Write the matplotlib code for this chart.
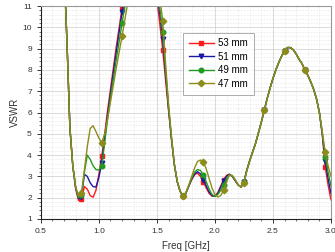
import matplotlib
matplotlib.use("Agg")
import matplotlib.pyplot as plt
from matplotlib.ticker import MultipleLocator

plt.rcParams["font.family"] = ["Liberation Sans", "DejaVu Sans"]

freq = [
    0.5, 0.525, 0.55, 0.575, 0.6, 0.625, 0.65, 0.675, 0.7, 0.725,
    0.75, 0.775, 0.8, 0.825, 0.85, 0.875, 0.9, 0.925, 0.95, 0.975,
    1.0, 1.025, 1.05, 1.075, 1.1, 1.125, 1.15, 1.175, 1.2, 1.225,
    1.25, 1.275, 1.3, 1.325, 1.35, 1.375, 1.4, 1.425, 1.45, 1.475,
    1.5, 1.525, 1.55, 1.575, 1.6, 1.625, 1.65, 1.675, 1.7, 1.725,
    1.75, 1.775, 1.8, 1.825, 1.85, 1.875, 1.9, 1.925, 1.95, 1.975,
    2.0, 2.025, 2.05, 2.075, 2.1, 2.125, 2.15, 2.175, 2.2, 2.225,
    2.25, 2.275, 2.3, 2.325, 2.35, 2.375, 2.4, 2.425, 2.45, 2.475,
    2.5, 2.525, 2.55, 2.575, 2.6, 2.625, 2.65, 2.675, 2.7, 2.725,
    2.75, 2.775, 2.8, 2.825, 2.85, 2.875, 2.9, 2.925, 2.95, 2.975,
    3.0,
]

vswr_53 = [
    22, 21, 20, 19, 18, 17, 16, 15, 12.8, 9.3,
    5.3, 3.5, 2.4, 1.87, 1.92, 2.52, 2.4, 2.1, 2.02, 2.35,
    3.1, 3.96, 5.0, 6.1, 7.1, 8.1, 9.1, 10.0, 10.95, 11.9,
    12.8, 13.6, 14.3, 14.8, 15.0, 15.0, 14.8, 14.3, 13.6, 12.6,
    11.3, 10.15, 8.93, 7.5, 6.1, 4.75, 3.55, 2.75, 2.3, 2.08,
    2.22, 2.55, 2.85, 3.08, 3.15, 3.0, 2.75, 2.45, 2.2, 2.07,
    2.07, 2.25, 2.55, 2.85, 3.05, 3.1, 3.0, 2.8, 2.6, 2.5,
    2.75, 3.3, 3.75, 4.15, 4.55, 5.05, 5.55, 6.1, 6.65, 7.15,
    7.6, 8.0, 8.35, 8.65, 8.9, 9.05, 9.05, 8.95, 8.75, 8.5,
    8.3, 8.0, 7.75, 7.45, 7.1, 6.65, 6.0, 4.95, 3.45, 2.6,
    1.9,
]

vswr_51 = [
    22, 21, 20, 19, 18, 17, 16, 15, 12.8, 9.3,
    5.3, 3.5, 2.45, 1.95, 2.02, 3.1, 3.0, 2.7, 2.52, 2.5,
    2.95, 3.64, 4.8, 5.9, 6.9, 7.9, 8.85, 9.8, 10.7, 11.6,
    12.5, 13.4, 14.1, 14.7, 15.0, 15.1, 15.0, 14.6, 14.0, 13.0,
    11.7, 10.6, 9.43, 7.8, 6.2, 4.8, 3.55, 2.75, 2.3, 2.08,
    2.22, 2.55, 2.87, 3.12, 3.22, 3.12, 2.83, 2.55, 2.27, 2.1,
    2.06, 2.2, 2.5, 2.8, 3.0, 3.1, 3.0, 2.8, 2.6, 2.5,
    2.75, 3.3, 3.75, 4.15, 4.55, 5.05, 5.55, 6.1, 6.65, 7.15,
    7.6, 8.0, 8.35, 8.65, 8.9, 9.05, 9.05, 8.95, 8.75, 8.5,
    8.3, 8.0, 7.75, 7.45, 7.1, 6.65, 6.0, 5.0, 3.72, 2.9,
    2.2,
]

vswr_49 = [
    22, 21, 20, 19, 18, 17, 16, 15, 12.8, 9.3,
    5.3, 3.5, 2.5, 2.0, 2.13, 3.2, 4.0, 3.8, 3.5, 3.32,
    3.3, 3.49, 4.6, 5.7, 6.7, 7.6, 8.5, 9.35, 10.2, 11.05,
    12.0, 12.9, 13.7, 14.4, 14.8, 15.1, 15.1, 14.8, 14.2, 13.2,
    12.0, 10.9, 9.8, 8.0, 6.3, 4.85, 3.58, 2.75, 2.3, 2.08,
    2.22, 2.57, 2.92, 3.2, 3.32, 3.28, 3.07, 2.75, 2.4, 2.15,
    2.06, 2.15, 2.35, 2.6, 2.9, 3.08, 3.02, 2.82, 2.6, 2.5,
    2.73, 3.3, 3.75, 4.15, 4.55, 5.05, 5.55, 6.1, 6.65, 7.15,
    7.6, 8.0, 8.35, 8.65, 8.9, 9.05, 9.05, 8.95, 8.75, 8.5,
    8.3, 8.0, 7.75, 7.45, 7.1, 6.65, 6.0, 5.05, 3.93, 3.2,
    2.55,
]

vswr_47 = [
    22, 21, 20, 19, 18, 17, 16, 15, 12.8, 9.3,
    5.3, 3.5, 2.5, 2.05, 2.2, 3.3, 4.4, 5.25, 5.38, 5.1,
    4.8, 4.58, 5.0, 5.7, 6.5, 7.3, 8.1, 8.85, 9.6, 10.4,
    11.2, 12.1, 12.9, 13.6, 14.2, 14.6, 14.8, 14.7, 14.3, 13.6,
    12.5, 11.4, 10.3, 8.3, 6.4, 4.9, 3.6, 2.77, 2.3, 2.08,
    2.25, 2.6, 3.0, 3.4, 3.7, 3.77, 3.69, 3.35, 2.9, 2.45,
    2.15, 2.03, 2.1, 2.36, 2.75, 3.05, 3.05, 2.85, 2.6, 2.5,
    2.7, 3.25, 3.72, 4.12, 4.55, 5.05, 5.55, 6.1, 6.65, 7.15,
    7.6, 8.0, 8.35, 8.65, 8.9, 9.05, 9.05, 8.95, 8.75, 8.5,
    8.3, 8.0, 7.75, 7.45, 7.1, 6.65, 6.0, 5.1, 4.15, 3.5,
    3.0,
]

series = [
    ("53 mm", vswr_53, "#ff1a1a", "s"),
    ("51 mm", vswr_51, "#1a1aa6", "v"),
    ("49 mm", vswr_49, "#1f9a1f", "o"),
    ("47 mm", vswr_47, "#8c8c1a", "D"),
]

fig = plt.figure(figsize=(3.35, 2.52), dpi=100)
ax = fig.add_axes([0.122, 0.131, 0.866, 0.845])

for label, vals, color, marker in series:
    ax.plot(freq, vals, color=color, lw=1.0, marker=marker, markersize=3.3,
            markevery=7, label=label)

ax.set_xlim(0.5, 3.0)
ax.set_ylim(1, 11)
ax.xaxis.set_major_locator(MultipleLocator(0.5))
ax.xaxis.set_minor_locator(MultipleLocator(0.1))
ax.yaxis.set_major_locator(MultipleLocator(1))
ax.yaxis.set_minor_locator(MultipleLocator(0.2))
ax.xaxis.set_major_formatter(plt.FuncFormatter(lambda v, p: f"{v:.1f}"))

ax.grid(which="major", color="#d4d4d4", lw=0.6)
ax.grid(which="minor", color="#e4e4e4", lw=0.5, ls=(0, (2, 2)))
ax.set_axisbelow(True)

ax.tick_params(which="both", labelsize=6, colors="#333333", direction="out")
ax.tick_params(which="major", length=3, width=0.7)
ax.tick_params(which="minor", length=1.5, width=0.5)
ax.spines["top"].set_color("#999999")
ax.spines["right"].set_color("#999999")
for s in ("left", "bottom"):
    ax.spines[s].set_color("#222222")

ax.set_xlabel("Freq [GHz]", fontsize=7, color="#333333", labelpad=4)
ax.set_ylabel("VSWR", fontsize=7, color="#333333", labelpad=2)

leg = ax.legend(loc="upper left", bbox_to_anchor=(0.49, 0.875), fontsize=7,
                frameon=True, fancybox=False, edgecolor="#999999",
                handlelength=2.6, handletextpad=0.4, labelspacing=0.35,
                borderpad=0.6, borderaxespad=0)
leg.get_frame().set_linewidth(0.7)

fig.savefig("out.png", dpi=100)
